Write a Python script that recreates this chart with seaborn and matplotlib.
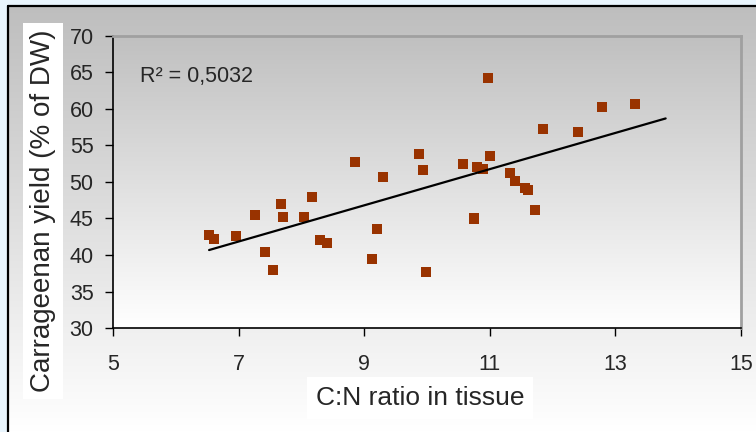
import numpy as np
import pandas as pd
import matplotlib
matplotlib.use("Agg")
import matplotlib.pyplot as plt
import seaborn as sns

# C:N ratio vs carrageenan yield
cn_ratio = [6.53, 6.61, 6.96, 7.26, 7.42, 7.55, 7.68, 7.71, 8.04, 8.17,
            8.29, 8.40, 8.85, 9.12, 9.21, 9.30, 9.87, 9.93, 9.98, 10.57,
            10.75, 10.79, 10.89, 10.97, 11.00, 11.32, 11.40, 11.56, 11.61, 11.72,
            11.85, 12.41, 12.79, 13.31]
yield_dw = [42.8, 42.2, 42.6, 45.5, 40.4, 38.0, 47.0, 45.2, 45.2, 48.0,
            42.1, 41.7, 52.8, 39.5, 43.6, 50.7, 53.8, 51.6, 37.7, 52.4,
            45.0, 52.1, 51.8, 64.3, 53.6, 51.2, 50.2, 49.2, 48.9, 46.1,
            57.3, 56.9, 60.3, 60.7]
r2_label = "R² = 0,5032"
trend_end = 13.8   # excel trendline forecast forward

df = pd.DataFrame({"cn": cn_ratio, "yld": yield_dw})

sns.set_style("ticks")
plt.rcParams["font.family"] = ["Liberation Sans", "DejaVu Sans"]

fig = plt.figure(figsize=(7.56, 4.32), dpi=100)

# background: light blue page + gray->white gradient chart area
bg = fig.add_axes([0, 0, 1, 1], zorder=-10)
bg.set_xlim(0, 756)
bg.set_ylim(432, 0)
bg.axis("off")
bg.add_patch(plt.Rectangle((0, 0), 756, 432, color="#e9f5fd"))
grad = np.linspace(190, 255, 256)[:, None] / 255.0
grad_rgb = np.dstack([grad, grad, grad])
bg.imshow(grad_rgb, extent=(8, 756, 432, 6), aspect="auto", zorder=1)
bg.plot([8, 8], [432, 6], color="black", lw=1.6, zorder=2)
bg.plot([8, 756], [6, 6], color="black", lw=1.6, zorder=2)

ax = fig.add_axes([113 / 756, 104 / 432, 628 / 756, 292 / 432], zorder=1)
ax.set_facecolor("none")
grad2 = np.linspace(192, 255, 256)[:, None] / 255.0
ax.imshow(np.dstack([grad2, grad2, grad2]), extent=(5, 15, 30, 70),
          aspect="auto", zorder=0)

sns.scatterplot(data=df, x="cn", y="yld", marker="s", s=52, color="#993300",
                edgecolor="none", linewidth=0, ax=ax, zorder=3)

# linear trendline
k, b = np.polyfit(df["cn"], df["yld"], 1)
xs = np.array([df["cn"].min(), trend_end])
ax.plot(xs, k * xs + b, color="black", lw=1.6, zorder=4)

ax.text(5.43, 64.5, r2_label, fontsize=15.5, va="center", ha="left")

ax.set_xlim(5, 15)
ax.set_ylim(30, 70)
ax.set_xticks(range(5, 16, 2))
ax.set_yticks(range(30, 71, 5))
ax.tick_params(axis="both", direction="out", length=6, width=1, labelsize=15.5,
               color="black")
ax.tick_params(axis="x", pad=13)
ax.tick_params(axis="y", pad=8)

for side in ["left", "bottom"]:
    ax.spines[side].set_color("black")
    ax.spines[side].set_linewidth(1.2)
for side in ["top", "right"]:
    ax.spines[side].set_visible(True)
    ax.spines[side].set_color("#a0a0a0")
    ax.spines[side].set_linewidth(2)

ax.set_xlabel("")
ax.set_ylabel("")
fig.text(420 / 756, 1 - 398 / 432, "C:N ratio in tissue", fontsize=19,
         ha="center", va="center",
         bbox=dict(boxstyle="square,pad=0.35", facecolor="white", edgecolor="none"))
fig.text(43 / 756, 1 - 211 / 432, "Carrageenan yield (% of DW)", fontsize=20,
         rotation=90, ha="center", va="center",
         bbox=dict(boxstyle="square,pad=0.25", facecolor="white", edgecolor="none"))

fig.savefig("out.png", dpi=100)
